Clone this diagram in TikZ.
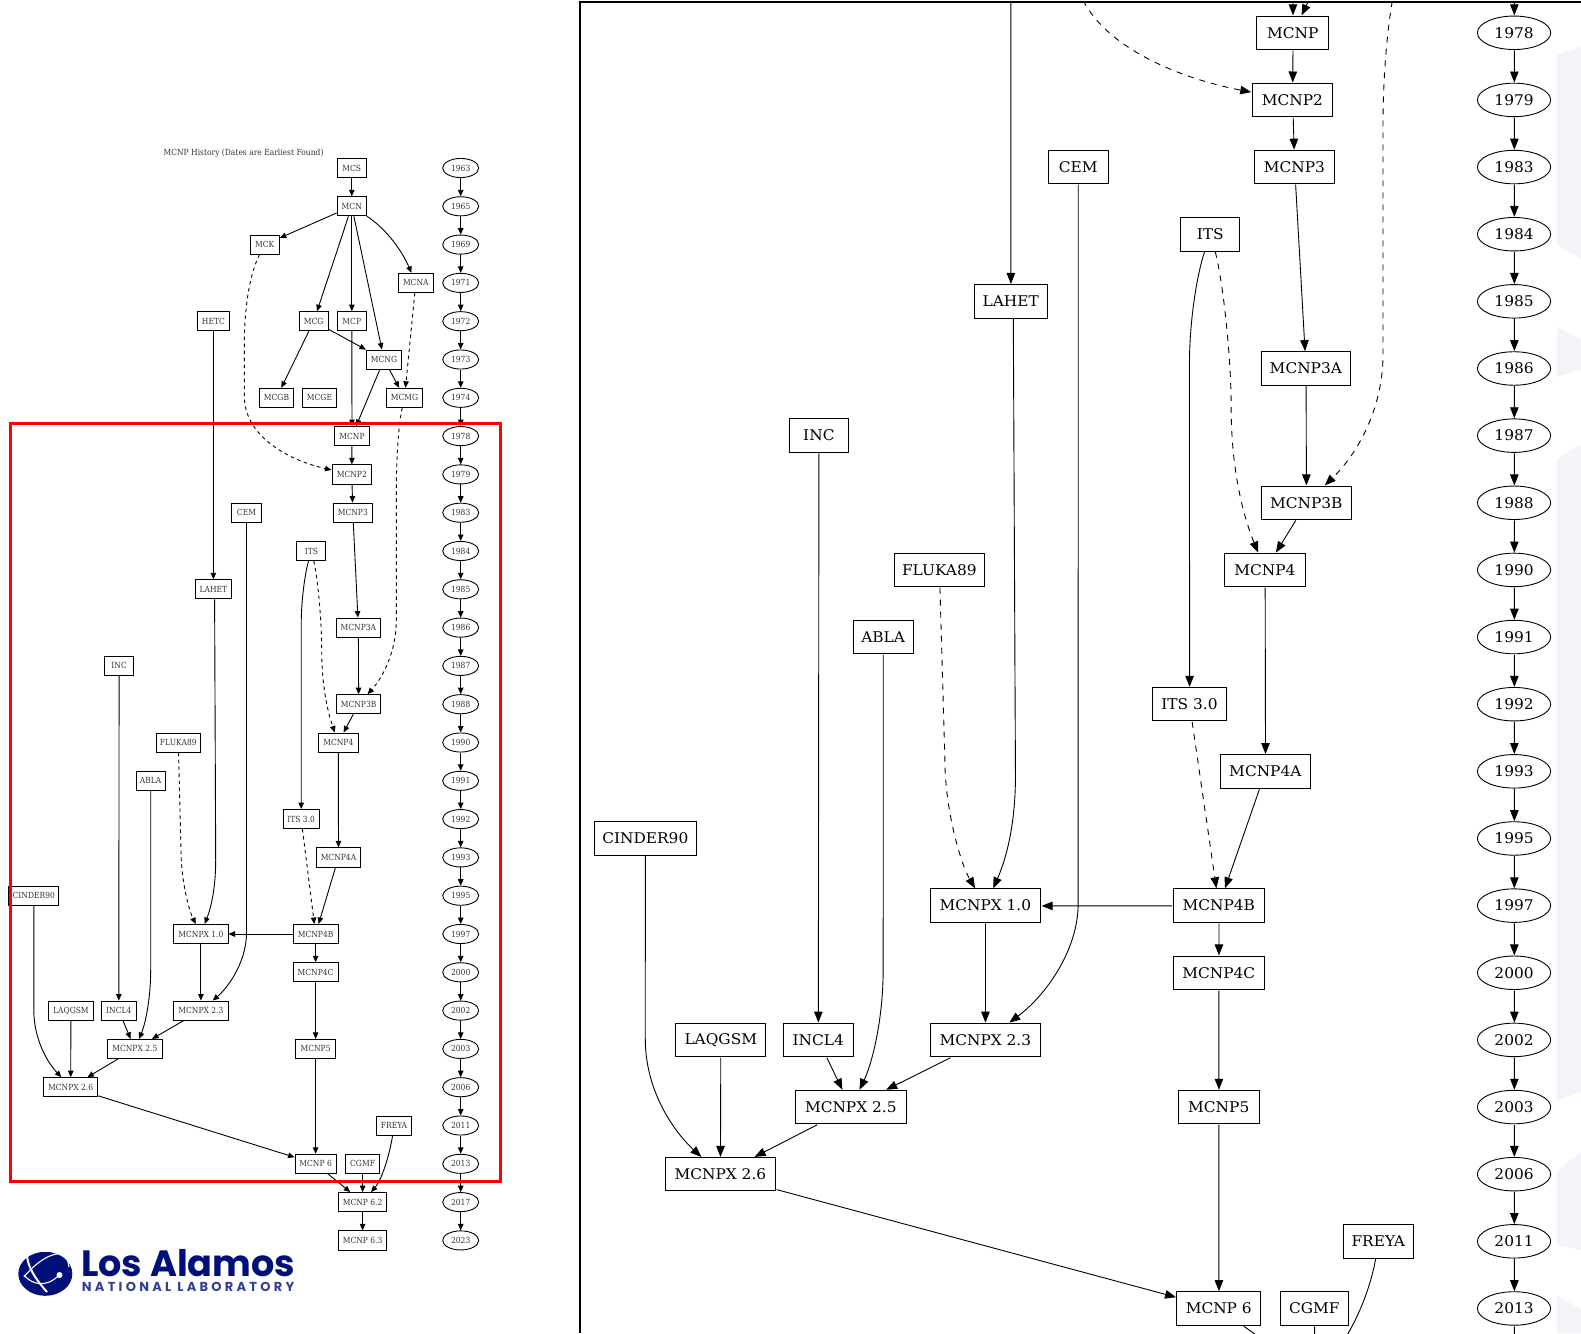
\documentclass[tikz,border=0pt]{standalone}
\usepackage{fontspec}
\setmainfont[FakeStretch=0.9]{DejaVu Serif}
\newfontfamily\logofont{Poppins}
\usepackage{tikz}
\usetikzlibrary{arrows.meta,shapes.geometric}
\definecolor{labnavy}{HTML}{000F7A}
\definecolor{wash}{HTML}{F3F3F9}
\newcommand{\gvfont}{\fontsize{8.4}{10}\selectfont}

% year column: first rank, then the years
\newcommand{\yearnodes}[2]{%
  \foreach \yr [count=\rk from #1] in {#2}
    \node[year] (y\yr) at (460.7,{168+38.3*\rk}) {\yr};}
\newcommand{\yearlinks}[1]{%
  \foreach \a/\b in {#1} \draw[->] (y\a) -- (y\b);}

% the part inside the red box, drawn in both panels
\newcommand{\boxedhistory}{%
  \yearnodes{7}{1978,1979,1983,1984,1985,1986,1987,1988,1990,1991,1992,1993,1995,1997,2000,2002,2003,2006,2011,2013}
  \node[box=35.3] (MCNP) at (352,436.1) {MCNP};
  \node[box=39.7] (MCNP2) at (351.8,474.4) {MCNP2};
  \node[box=29.3] (CEM) at (246.5,512.7) {CEM};
  \node[box=39.7] (MCNP3) at (352.8,512.7) {MCNP3};
  \node[box=29] (ITS) at (311.4,551) {ITS};
  \node[box=35.8] (LAHET) at (213.4,589.3) {LAHET};
  \node[box=43.9] (MCNP3A) at (358.4,627.6) {MCNP3A};
  \node[box=29] (INC) at (119.1,665.9) {INC};
  \node[box=44.5] (MCNP3B) at (358.6,704.2) {MCNP3B};
  \node[box=44.6] (FLUKA89) at (178.3,742.5) {FLUKA89};
  \node[box=39.5] (MCNP4) at (338.3,742.5) {MCNP4};
  \node[box=29.3] (ABLA) at (150.7,780.8) {ABLA};
  \node[box=36.3] (ITS30) at (301.2,819.1) {ITS 3.0};
  \node[box=44.4] (MCNP4A) at (338.5,857.4) {MCNP4A};
  \node[box=50] (CINDER90) at (33.8,895.7) {CINDER90};
  \node[box=54.3] (MCNPX10) at (200.9,934) {MCNPX 1.0};
  \node[box=45] (MCNP4B) at (315.6,934) {MCNP4B};
  \node[box=45] (MCNP4C) at (315.6,972.3) {MCNP4C};
  \node[box=44.3] (LAQGSM) at (70.9,1010.6) {LAQGSM};
  \node[box=34.7] (INCL4) at (118.8,1010.6) {INCL4};
  \node[box=54.3] (MCNPX23) at (200.9,1010.6) {MCNPX 2.3};
  \node[box=54.3] (MCNPX25) at (134.8,1048.9) {MCNPX 2.5};
  \node[box=40] (MCNP5) at (315.6,1048.9) {MCNP5};
  \node[box=54.3] (MCNPX26) at (70.7,1087.2) {MCNPX 2.6};
  \node[box=34.5] (FREYA) at (394,1125.5) {FREYA};
  \node[box=41.2] (MCNP6) at (315.6,1163.8) {MCNP 6};
  \node[box=33.7] (CGMF) at (362.6,1163.8) {CGMF};
  \yearlinks{1974/1978,1978/1979,1979/1983,1983/1984,1984/1985,1985/1986,1986/1987,1987/1988,1988/1990,1990/1991,1991/1992,1992/1993,1993/1995,1995/1997,1997/2000,2000/2002,2002/2003,2003/2006,2006/2011,2011/2013,2013/2017}
  % straight links
  \foreach \a/\b in {MCP/MCNP,MCNG/MCNP,MCNP/MCNP2,MCNP2/MCNP3,MCNP3/MCNP3A,MCNP3A/MCNP3B,
    MCNP3B/MCNP4,MCNP4/MCNP4A,MCNP4A/MCNP4B,MCNP4B/MCNP4C,MCNP4C/MCNP5,MCNP5/MCNP6,
    MCNP4B/MCNPX10,MCNPX10/MCNPX23,MCNPX23/MCNPX25,MCNPX25/MCNPX26,MCNPX26/MCNP6,
    HETC/LAHET,INC/INCL4,INCL4/MCNPX25,LAQGSM/MCNPX26,MCNP6/MCNP62,CGMF/MCNP62}
    \draw[->] (\a) -- (\b);
  \draw[dep] (ITS30) -- (MCNP4B);
  % bowed links
  \draw[->] ([xshift=1.2pt]LAHET.south) -- (215.7,860) .. controls (215.7,885) and (212,905) .. (MCNPX10);
  \draw[->] (CEM) -- (246.5,933) .. controls (246.5,960) and (230,985.8) .. (MCNPX23);
  \draw[->] (ITS) .. controls (305,573.4) and (301.2,600) .. (301.2,625) -- (ITS30);
  \draw[->] (ABLA) -- (150.7,970) .. controls (150.7,1000) and (145,1024.7) .. (MCNPX25);
  \draw[->] (CINDER90) -- (33.8,1010) .. controls (33.8,1040) and (48,1063) .. (MCNPX26);
  \draw[->] (FREYA) .. controls (390.5,1150) and (383,1178) .. (MCNP62);
  \draw[dep] (MCK) .. controls (248,277) and (244.3,315) .. (244.3,345) -- (244.3,396)
    .. controls (244.3,437) and (290,460.7) .. (MCNP2);
  \draw[dep] (MCMG) .. controls (398.5,424) and (396.3,460) .. (396.3,490) -- (396.3,620)
    .. controls (396.3,650) and (384,676) .. (MCNP3B);
  \draw[dep] (ITS) .. controls (317.5,576.5) and (321.7,620) .. (321.7,650)
    .. controls (321.7,680) and (326,707) .. (MCNP4);
  \draw[dep] (FLUKA89) -- (181,850) .. controls (181,880) and (189,910.6) .. (MCNPX10);
}

\begin{document}
\begin{tikzpicture}[
  x=1pt,y=-1pt,
  line width=0.9pt,
  box/.style={rectangle,draw,minimum width=#1,minimum height=19.1pt,inner sep=0pt,font=\gvfont},
  year/.style={ellipse,draw,minimum width=36pt,minimum height=19.1pt,inner sep=0pt,font=\gvfont}
]
  \useasboundingbox (0,0) rectangle (1581,1333);
  % faint shapes along the right edge
  \fill[wash] (1556.7,55) -- (1581,47) -- (1581,259) -- (1556.7,245) -- cycle;
  \fill[wash] (1556.7,327) -- (1581,340) -- (1581,370) -- (1556.7,376.6) -- cycle;
  \fill[wash] (1556.7,459) -- (1581,444) -- (1581,1092) -- (1556.7,1100.8) -- cycle;
  \fill[wash] (1556.7,1171) -- (1581,1152) -- (1581,1250) -- (1556.7,1245) -- cycle;
  \fill[wash] (1556.7,1296) -- (1581,1309) -- (1581,1333) -- (1556.7,1333) -- cycle;

  % whole history
  \begin{scope}[name prefix=L-,text=black!80,
    >={Triangle[length=6.5pt,width=5.5pt]},
    dep/.style={->,dash pattern=on 3.5pt off 3.5pt}]
    \node[font=\gvfont] (heading) at (243.5,153) {MCNP History (Dates are Earliest Found)};
    \yearnodes{0}{1963,1965,1969,1971,1972,1973,1974}
    \yearnodes{27}{2017,2023}
    \node[box=29.3] (MCS) at (351.8,168) {MCS};
    \node[box=29.3] (MCN) at (351.8,206.3) {MCN};
    \node[box=29.3] (MCK) at (264.7,244.6) {MCK};
    \node[box=35] (MCNA) at (415.8,282.9) {MCNA};
    \node[box=32.3] (HETC) at (213.4,321.2) {HETC};
    \node[box=29.3] (MCG) at (313.7,321.2) {MCG};
    \node[box=29.3] (MCP) at (351.8,321.2) {MCP};
    \node[box=35.3] (MCNG) at (384,359.5) {MCNG};
    \node[box=34.3] (MCGB) at (276.5,397.8) {MCGB};
    \node[box=34.3] (MCGE) at (319.5,397.8) {MCGE};
    \node[box=36.3] (MCMG) at (404.5,397.8) {MCMG};
    \node[box=48.2] (MCNP62) at (362.6,1202.1) {MCNP 6.2};
    \node[box=48.2] (MCNP63) at (362.6,1240.4) {MCNP 6.3};
    \boxedhistory
    \yearlinks{1963/1965,1965/1969,1969/1971,1971/1972,1972/1973,1973/1974,2017/2023}
    \foreach \a/\b in {MCS/MCN,MCN/MCK,MCN/MCG,MCN/MCP,MCN/MCNG,MCG/MCNG,MCG/MCGB,MCNG/MCMG,MCNP62/MCNP63}
      \draw[->] (\a) -- (\b);
    \draw[->] (MCN) .. controls (386.7,229.2) and (402,251) .. (MCNA);
    \draw[dep] (MCNA) -- (MCMG);
  \end{scope}
  % red box round the part shown enlarged
  \draw[red,line width=3pt] (10.3,423.3) rectangle (500.5,1181.7);

  % enlarged panel
  \begin{scope}
    \clip (581,2.5) rectangle (1581,1333);
    \begin{scope}[name prefix=R-,shift={(576.5,-731.7)},xscale=2.035,yscale=1.753,transform shape,
      >={Triangle[length=11pt,width=8.5pt]},
      dep/.style={->,dash pattern=on 6pt off 6pt}]
      \coordinate (y1974) at (460.7,397.8);
      \coordinate (y2017) at (460.7,1202.1);
      \coordinate (MCK) at (264.7,244.6);
      \coordinate (HETC) at (213.4,321.2);
      \coordinate (MCP) at (351.8,321.2);
      \coordinate (MCNG) at (384,359.5);
      \coordinate (MCMG) at (404.5,397.8);
      \coordinate (MCNP62) at (362.6,1202.1);
      \boxedhistory
    \end{scope}
  \end{scope}
  \draw[line width=2pt] (1581,1.5) -- (580,1.5) -- (580,1333);

  % logo
  \begin{scope}
    \clip (10,1252) rectangle (90,1300);
    \fill[labnavy] (45.3,1273.8) ellipse (27pt and 22pt);
    \draw[white,line width=1.1pt] (24,1277) .. controls (36,1262) and (52,1252) .. (62,1254) .. controls (67,1256) and (68,1261) .. (69,1267);
    \draw[white,line width=2pt] (27,1252) .. controls (26,1268) and (40,1284) .. (47,1292);
    \draw[white,line width=1.1pt] (24,1275) .. controls (32,1285) and (47,1288) .. (59,1275);
    \fill[white] (59.5,1275) circle (3pt);
  \end{scope}
  \node[anchor=base west,inner sep=0pt,text=labnavy,font=\logofont\bfseries\fontsize{36.6}{37}\selectfont] (lab) at (80.7,1276) {Los Alamos};
  \node[anchor=base west,inner sep=0pt,text=labnavy!80,font=\logofont\fontsize{13}{14}\selectfont] (labsub) at (81.5,1291.5) {\addfontfeature{LetterSpace=25}\textbf{NATIONAL LABORATORY}};
\end{tikzpicture}
\end{document}
